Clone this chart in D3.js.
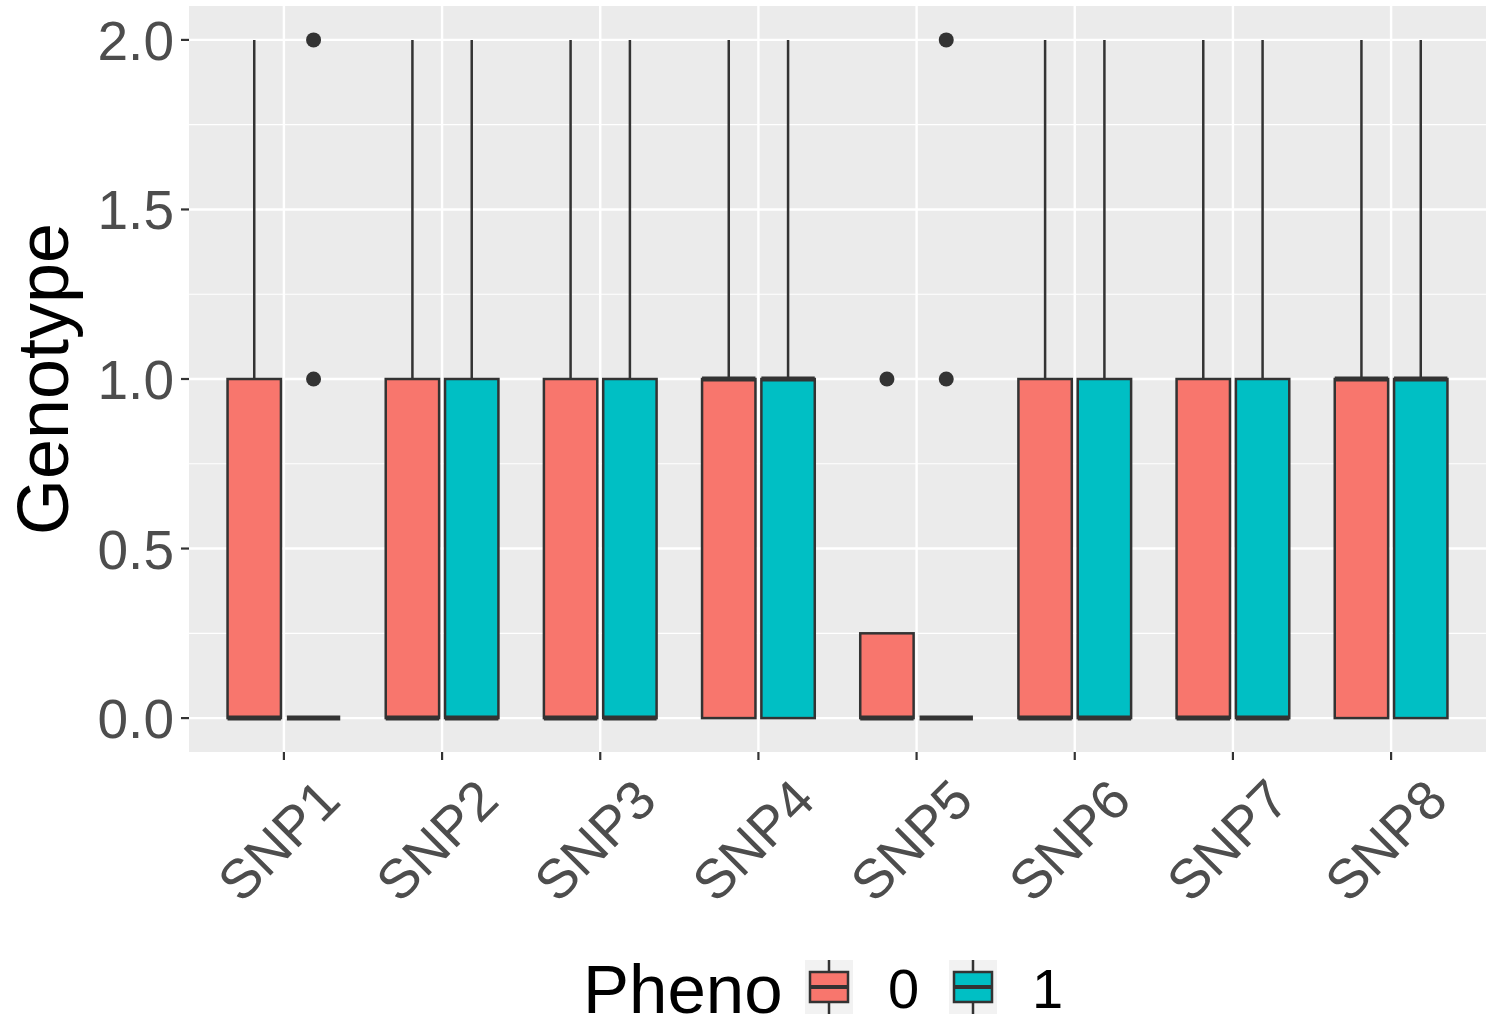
<!DOCTYPE html>
<html>
<head>
<meta charset="utf-8">
<script src="https://cdn.jsdelivr.net/npm/d3@7"></script>
<style>
  body { margin: 0; background: #fff; }
  svg { display: block; font-family: "Liberation Sans", Arial, sans-serif; }
</style>
</head>
<body>
<div id="chart"></div>
<script>
// categories and groups
const snps = ['SNP1', 'SNP2', 'SNP3', 'SNP4', 'SNP5', 'SNP6', 'SNP7', 'SNP8'];
const phenoLevels = ['0', '1'];
const phenoColors = ['#F8766D', '#00BFC4'];

// box stats, pheno 0
const p0Lower = [0, 0, 0, 0, 0, 0, 0, 0];
const p0Q1 = [0, 0, 0, 0, 0, 0, 0, 0];
const p0Median = [0, 0, 0, 1, 0, 0, 0, 1];
const p0Q3 = [1, 1, 1, 1, 0.25, 1, 1, 1];
const p0Upper = [2, 2, 2, 2, 0.25, 2, 2, 2];

// box stats, pheno 1
const p1Lower = [0, 0, 0, 0, 0, 0, 0, 0];
const p1Q1 = [0, 0, 0, 0, 0, 0, 0, 0];
const p1Median = [0, 0, 0, 1, 0, 0, 0, 1];
const p1Q3 = [0, 1, 1, 1, 0, 1, 1, 1];
const p1Upper = [0, 2, 2, 2, 0, 2, 2, 2];

// outliers: [snp, pheno, value]
const outliers = [
  ['SNP1', '1', 1], ['SNP1', '1', 2],
  ['SNP5', '0', 1],
  ['SNP5', '1', 1], ['SNP5', '1', 2]
];

const yTicks = [0, 0.5, 1, 1.5, 2];
const yMinor = [0.25, 0.75, 1.25, 1.75];

const width = 1494, height = 1027;
const panel = { left: 189, right: 1486, top: 6, bottom: 752 };

const svg = d3.select('#chart').append('svg')
    .attr('width', width)
    .attr('height', height);

const x = d3.scaleLinear()
    .domain([0.4, snps.length + 0.6])
    .range([panel.left, panel.right]);
const y = d3.scaleLinear()
    .domain([-0.1, 2.1])
    .range([panel.bottom, panel.top]);

const unit = x(1) - x(0);
const dodgeW = 0.75 / phenoLevels.length;
const boxW = dodgeW * 0.9 * unit;

// panel background + grid
svg.append('rect')
    .attr('x', panel.left).attr('y', panel.top)
    .attr('width', panel.right - panel.left)
    .attr('height', panel.bottom - panel.top)
    .attr('fill', '#EBEBEB');

svg.append('g').selectAll('line').data(yMinor).enter().append('line')
    .attr('x1', panel.left).attr('x2', panel.right)
    .attr('y1', d => y(d)).attr('y2', d => y(d))
    .attr('stroke', '#fff').attr('stroke-width', 1.2);
svg.append('g').selectAll('line').data(yTicks).enter().append('line')
    .attr('x1', panel.left).attr('x2', panel.right)
    .attr('y1', d => y(d)).attr('y2', d => y(d))
    .attr('stroke', '#fff').attr('stroke-width', 2.4);
svg.append('g').selectAll('line').data(snps).enter().append('line')
    .attr('x1', (d, i) => x(i + 1)).attr('x2', (d, i) => x(i + 1))
    .attr('y1', panel.top).attr('y2', panel.bottom)
    .attr('stroke', '#fff').attr('stroke-width', 2.4);

// boxes
const stats = [
  { lower: p0Lower, q1: p0Q1, med: p0Median, q3: p0Q3, upper: p0Upper },
  { lower: p1Lower, q1: p1Q1, med: p1Median, q3: p1Q3, upper: p1Upper }
];
const boxes = [];
snps.forEach((s, i) => {
  phenoLevels.forEach((p, j) => {
    const st = stats[j];
    boxes.push({
      snp: s, i: i, j: j,
      lower: st.lower[i], q1: st.q1[i], med: st.med[i], q3: st.q3[i], upper: st.upper[i]
    });
  });
});
const cx = d => x(d.i + 1 + (d.j - (phenoLevels.length - 1) / 2) * dodgeW);
const lineCol = '#333333';

const bg = svg.append('g').selectAll('g').data(boxes).enter().append('g');
bg.append('line')
    .attr('x1', cx).attr('x2', cx)
    .attr('y1', d => y(d.q3)).attr('y2', d => y(d.upper))
    .attr('stroke', lineCol).attr('stroke-width', 2.5);
bg.append('line')
    .attr('x1', cx).attr('x2', cx)
    .attr('y1', d => y(d.q1)).attr('y2', d => y(d.lower))
    .attr('stroke', lineCol).attr('stroke-width', 2.5);
bg.append('rect')
    .attr('x', d => cx(d) - boxW / 2)
    .attr('width', boxW)
    .attr('y', d => y(d.q3))
    .attr('height', d => y(d.q1) - y(d.q3))
    .attr('fill', d => phenoColors[d.j])
    .attr('stroke', lineCol).attr('stroke-width', 2.5);
bg.append('line')
    .attr('x1', d => cx(d) - boxW / 2).attr('x2', d => cx(d) + boxW / 2)
    .attr('y1', d => y(d.med)).attr('y2', d => y(d.med))
    .attr('stroke', lineCol).attr('stroke-width', 5);

// outlier points
svg.append('g').selectAll('circle').data(outliers).enter().append('circle')
    .attr('cx', d => cx({ i: snps.indexOf(d[0]), j: phenoLevels.indexOf(d[1]) }))
    .attr('cy', d => y(d[2]))
    .attr('r', 7.5)
    .attr('fill', lineCol);

// y axis
const yAxis = svg.append('g');
yAxis.selectAll('line').data(yTicks).enter().append('line')
    .attr('x1', panel.left - 8).attr('x2', panel.left)
    .attr('y1', d => y(d)).attr('y2', d => y(d))
    .attr('stroke', lineCol).attr('stroke-width', 2.2);
yAxis.selectAll('text').data(yTicks).enter().append('text')
    .attr('x', panel.left - 15)
    .attr('y', d => y(d) + 20)
    .attr('text-anchor', 'end')
    .attr('font-size', 55)
    .attr('fill', '#4D4D4D')
    .text(d => d3.format('.1f')(d));

// x axis
const xAxis = svg.append('g');
xAxis.selectAll('line').data(snps).enter().append('line')
    .attr('x1', (d, i) => x(i + 1)).attr('x2', (d, i) => x(i + 1))
    .attr('y1', panel.bottom).attr('y2', panel.bottom + 8)
    .attr('stroke', lineCol).attr('stroke-width', 2.2);
xAxis.selectAll('text').data(snps).enter().append('text')
    .attr('transform', (d, i) => 'translate(' + (x(i + 1) + 59) + ',803) rotate(-45)')
    .attr('text-anchor', 'end')
    .attr('font-size', 55)
    .attr('fill', '#4D4D4D')
    .text(d => d);

// y title
svg.append('text')
    .attr('transform', 'translate(68,' + ((panel.top + panel.bottom) / 2) + ') rotate(-90)')
    .attr('text-anchor', 'middle')
    .attr('font-size', 72)
    .attr('fill', '#000')
    .text('Genotype');

// legend
const legend = svg.append('g');
legend.append('text')
    .attr('x', 583).attr('y', 1013)
    .attr('font-size', 69)
    .attr('fill', '#000')
    .text('Pheno');

const keyX = [805, 949];
const keys = legend.selectAll('g.key').data(phenoLevels).enter().append('g')
    .attr('class', 'key')
    .attr('transform', (d, i) => 'translate(' + keyX[i] + ',960)');
keys.append('rect')
    .attr('width', 48).attr('height', 54)
    .attr('fill', '#F2F2F2');
keys.append('line')
    .attr('x1', 24).attr('x2', 24).attr('y1', 0).attr('y2', 54)
    .attr('stroke', lineCol).attr('stroke-width', 2.5);
keys.append('rect')
    .attr('x', 5).attr('y', 12).attr('width', 38).attr('height', 30)
    .attr('fill', (d, i) => phenoColors[i])
    .attr('stroke', lineCol).attr('stroke-width', 2.5);
keys.append('line')
    .attr('x1', 5).attr('x2', 43).attr('y1', 27).attr('y2', 27)
    .attr('stroke', lineCol).attr('stroke-width', 4);
keys.append('text')
    .attr('x', 83).attr('y', 1008 - 960)
    .attr('font-size', 56)
    .attr('fill', '#000')
    .text(d => d);
</script>
</body>
</html>
